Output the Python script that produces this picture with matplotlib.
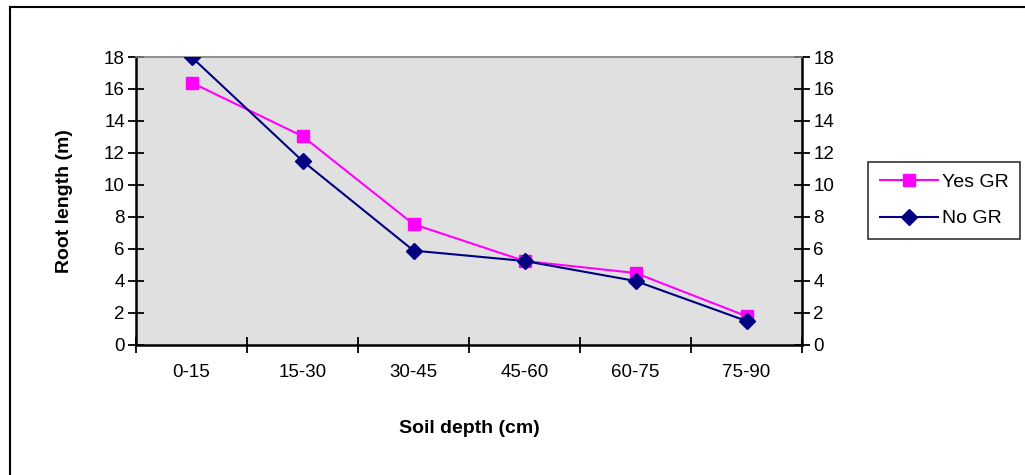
import matplotlib
matplotlib.use("Agg")
import matplotlib.pyplot as plt
from matplotlib.lines import Line2D

depths = ["0-15", "15-30", "30-45", "45-60", "60-75", "75-90"]
yes_gr = [16.4, 13.05, 7.55, 5.25, 4.5, 1.8]
no_gr = [18.0, 11.5, 5.9, 5.25, 4.0, 1.5]
y_ticks = [0, 2, 4, 6, 8, 10, 12, 14, 16, 18]

plt.rcParams["font.family"] = ["Liberation Sans", "DejaVu Sans"]

fig = plt.figure(figsize=(10.25, 4.75), dpi=100)
ax = fig.add_axes([0.1327, 0.2737, 0.6498, 0.6063])
ax.set_facecolor("#e0e0e0")

xs = [i + 0.5 for i in range(len(depths))]
ax.plot(xs, yes_gr, color="#ff00ff", lw=1.5, marker="s", ms=9,
        mfc="#ff00ff", mec="#ff00ff", label="Yes GR", zorder=3)
ax.plot(xs, no_gr, color="#000080", lw=1.5, marker="D", ms=8.5,
        mfc="#000080", mec="#000080", label="No GR", zorder=4)

ax.set_xlim(0, len(depths))
ax.set_ylim(0, 18)
ax.set_xticks(range(len(depths) + 1))
ax.set_xticklabels([])
ax.set_xticks(xs, minor=True)
ax.set_xticklabels(depths, minor=True)
ax.tick_params(axis="x", which="major", direction="inout", length=12, width=1.3)
ax.tick_params(axis="x", which="minor", length=0, pad=14, labelsize=13.5)

ax.set_yticks(y_ticks)
ax.tick_params(axis="y", direction="inout", length=12, width=1.3,
               labelsize=13.5, pad=2, left=True, right=True,
               labelleft=True, labelright=True)

for side in ["left", "bottom", "right"]:
    ax.spines[side].set_linewidth(1.8)
    ax.spines[side].set_color("black")
ax.spines["top"].set_color("#808080")
ax.spines["top"].set_linewidth(1.2)

ax.set_xlabel("Soil depth (cm)", fontsize=14, fontweight="bold", labelpad=28)
ax.set_ylabel("Root length (m)", fontsize=14, fontweight="bold", labelpad=22)

handles = [
    Line2D([], [], color="#ff00ff", lw=1.5, marker="s", ms=8, label="Yes GR"),
    Line2D([], [], color="#000080", lw=1.5, marker="D", ms=8, label="No GR"),
]
leg = fig.legend(handles=handles, loc="upper left",
                 bbox_to_anchor=(868 / 1025, 1 - 162 / 475),
                 frameon=True, fancybox=False, fontsize=14,
                 handlelength=3.0, handletextpad=0.2, borderpad=0.6,
                 labelspacing=0.95, borderaxespad=0)
leg.get_frame().set_edgecolor("black")
leg.get_frame().set_linewidth(1.2)

# outer chart frame (left and top edges)
fig.add_artist(Line2D([9.5 / 1025, 9.5 / 1025], [0, 1 - 6.5 / 475],
                      color="black", lw=1.5, transform=fig.transFigure))
fig.add_artist(Line2D([9.5 / 1025, 1], [1 - 6.5 / 475, 1 - 6.5 / 475],
                      color="black", lw=1.5, transform=fig.transFigure))

fig.savefig("out.png", dpi=100)
